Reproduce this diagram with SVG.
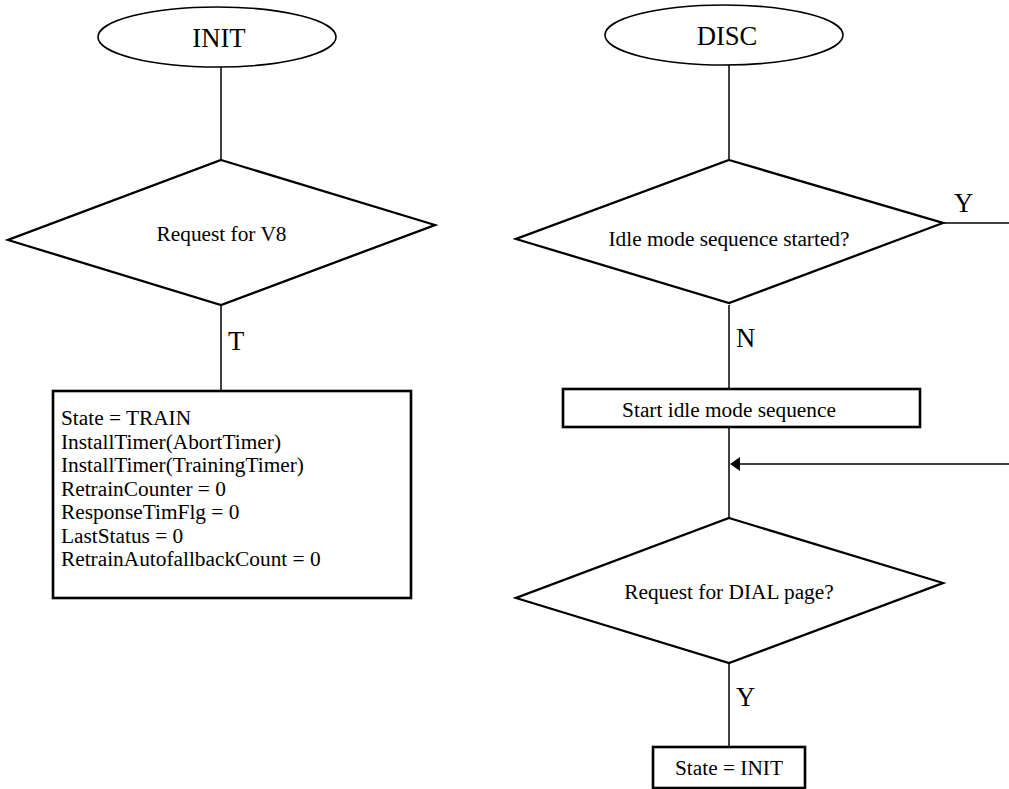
<svg xmlns="http://www.w3.org/2000/svg" width="1009" height="789" viewBox="0 0 1009 789">
  <style>
    .term { fill: #fff; stroke: #000; stroke-width: 1.6; }
    .dec { fill: #fff; stroke: #000; stroke-width: 2.3; stroke-linejoin: miter; }
    .proc { fill: #fff; stroke: #000; stroke-width: 2.6; }
    .conn { fill: none; stroke: #000; stroke-width: 1.5; }
    text { font-family: "Liberation Serif", "Times New Roman", serif; fill: #000; }
    .t { font-size: 21.33px; }
    .big { font-size: 26.67px; }
    .mid { text-anchor: middle; }
  </style>
  <defs>
    <marker id="arrow" markerWidth="10" markerHeight="14" refX="0" refY="7" orient="auto" markerUnits="userSpaceOnUse">
      <path d="M0,0 L10,7 L0,14 Z" fill="#000"/>
    </marker>
  </defs>
  <rect width="1009" height="789" fill="#fff"/>

  <!-- connectors -->
  <g id="connectors">
    <line class="conn" x1="221" y1="67" x2="221" y2="160"/>
    <line class="conn" x1="221" y1="305" x2="221" y2="391"/>
    <line class="conn" x1="729" y1="65" x2="729" y2="160"/>
    <line class="conn" x1="943" y1="223" x2="1009" y2="223"/>
    <line class="conn" x1="729" y1="305" x2="729" y2="389"/>
    <line class="conn" x1="729" y1="427" x2="729" y2="518"/>
    <line class="conn" x1="1009" y1="464" x2="740" y2="464" marker-end="url(#arrow)"/>
    <line class="conn" x1="729" y1="663" x2="729" y2="747"/>
    <text class="big" x="228" y="350">T</text>
    <text class="big" x="954" y="212">Y</text>
    <text class="big" x="736" y="347">N</text>
    <text class="big" x="736" y="706">Y</text>
  </g>

  <!-- INIT branch -->
  <g id="init">
    <ellipse class="term" cx="217" cy="37" rx="119" ry="30"/>
    <text class="big mid" x="219" y="47">INIT</text>
  </g>
  <g id="req-v8">
    <polygon class="dec" points="221,160 435,225 221,305 8,240"/>
    <text class="t mid" x="221.5" y="241">Request for V8</text>
  </g>
  <g id="train-setup">
    <rect class="proc" x="53" y="391" width="358" height="207"/>
    <text class="t" x="61" y="425">State = TRAIN</text>
    <text class="t" x="61" y="448.5">InstallTimer(AbortTimer)</text>
    <text class="t" x="61" y="472">InstallTimer(TrainingTimer)</text>
    <text class="t" x="61" y="495.5">RetrainCounter = 0</text>
    <text class="t" x="61" y="519">ResponseTimFlg = 0</text>
    <text class="t" x="61" y="542.5">LastStatus = 0</text>
    <text class="t" x="61" y="566">RetrainAutofallbackCount = 0</text>
  </g>

  <!-- DISC branch -->
  <g id="disc">
    <ellipse class="term" cx="724" cy="35" rx="119" ry="30"/>
    <text class="big mid" x="727" y="45">DISC</text>
  </g>
  <g id="idle-started">
    <polygon class="dec" points="729,160 943,223 729,303 516,239"/>
    <text class="t mid" x="729" y="246">Idle mode sequence started?</text>
  </g>
  <g id="start-idle">
    <rect class="proc" x="563" y="389" width="357" height="38"/>
    <text class="t mid" x="729" y="417">Start idle mode sequence</text>
  </g>
  <g id="req-dial">
    <polygon class="dec" points="729,518 943,583 729,663 516,598"/>
    <text class="t mid" x="729" y="599">Request for DIAL page?</text>
  </g>
  <g id="state-init">
    <rect class="proc" x="653" y="747" width="152" height="41"/>
    <text class="t mid" x="729" y="775">State = INIT</text>
  </g>
</svg>
